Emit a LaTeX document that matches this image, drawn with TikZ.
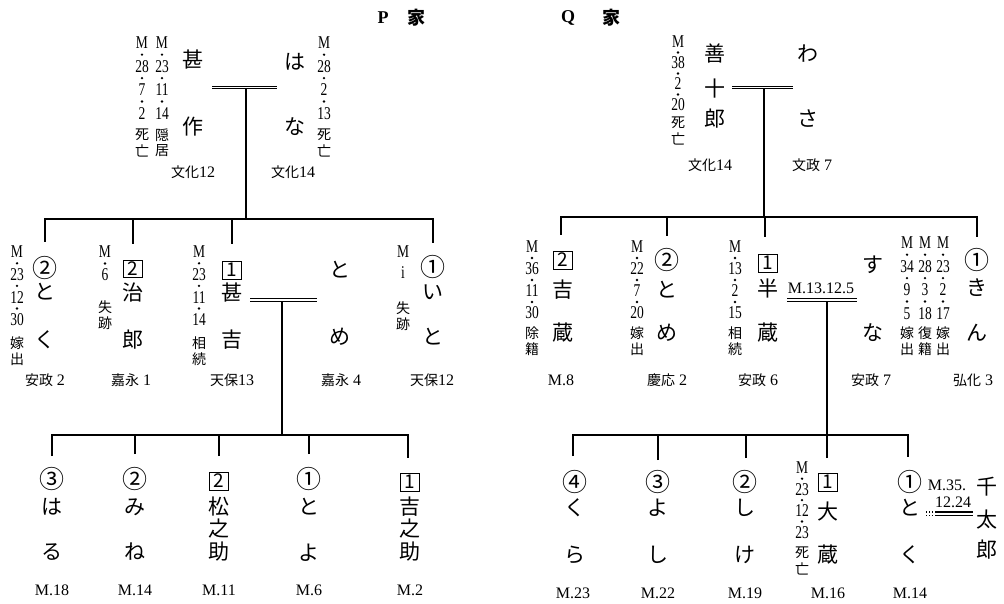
\documentclass[tikz,border=0pt]{standalone}
\usepackage{fontspec}
\setmainfont{Liberation Serif}
\newfontfamily\jp{Noto Sans CJK JP}
\newfontfamily\annf[FakeStretch=0.75]{Liberation Serif}
\newcommand\cnum[1]{{\jp\fontsize{25}{25}\selectfont #1}}
\newcommand\bx[1]{{\setlength\fboxsep{0pt}\setlength\fboxrule{0.7pt}\fbox{\makebox[18pt][c]{\rule[-2pt]{0pt}{17pt}\fontsize{19}{19}\selectfont #1}}}}
\newcommand\dtt[2]{{\jp\fontsize{14}{14}\selectfont #1}#2}
\tikzset{
  ln/.style={line width=1.4pt},
  dbl/.style={double, double distance=1.6pt, line width=1.1pt},
  thinln/.style={line width=1.1pt},
  nm/.style={inner sep=0pt, font=\jp\fontsize{21}{21}\selectfont},
  annum/.style={inner sep=0pt, font=\annf\fontsize{18}{18}\selectfont},
  annk/.style={inner sep=0pt, font=\jp\fontsize{14}{14}\selectfont},
  dt/.style={inner sep=0pt, font=\fontsize{16}{16}\selectfont},
  ml/.style={inner sep=0pt, font=\fontsize{16}{16}\selectfont},
  ttl/.style={inner sep=0pt, font=\bfseries\fontsize{18}{18}\selectfont},
}
\newcommand\vname[3]{\foreach \yy/\tx [count=\ii] in {#3} {\node[nm] (#1\ii) at (#2,\yy) {\tx};}}
\newcommand\ann[8]{%
  \foreach \tx [count=\ii from 0] in {#5} {%
    \node[annum] (#1n\ii) at (#2,{#3+2*\ii*#4}) {\tx};
    \ifnum\ii>0 \fill (#2,{#3+(2*\ii-1)*#4}) circle[radius=1.3pt];\fi}
  \node[annk] (#1k1) at (#2,#6) {#7};
  \node[annk] (#1k2) at (#2,{#6+16}) {#8};
}
\begin{document}
\begin{tikzpicture}[x=1pt,y=-1pt]
\useasboundingbox (0,0) rectangle (1004,604);
% titles
\node[ttl] (Pt) at (383,18) {P};
\node[ttl] (Pie) at (416,18) {\jp 家};
\node[ttl] (Qt) at (568,18) {Q};
\node[ttl] (Qie) at (611,18) {\jp 家};
% ================= P family =================
\vname{jsa}{193}{60/甚,127/作}
\vname{hana}{295}{62/は,127/な}
\ann{jsaA}{142}{43}{11.7}{M,28,7,2}{135}{死}{亡}
\ann{jsaB}{162}{43}{11.7}{M,23,11,14}{135}{隠}{居}
\ann{hanaA}{324}{43}{11.7}{M,28,2,13}{135}{死}{亡}
\node[dt] (jsad) at (193,172) {\dtt{文化}{12}};
\node[dt] (hanad) at (293,172) {\dtt{文化}{14}};
\coordinate (PdL) at (212,87.5);
\coordinate (PdR) at (277,87.5);
\coordinate (Pm) at (246,87.5);
\coordinate (PB) at (246,219);
% P second generation
\vname{tok}{45}{268/\cnum{②},292/と,340/く}
\ann{tokA}{17}{252}{11.3}{M,23,12,30}{343}{嫁}{出}
\node[dt] (tokd) at (45,380) {\dtt{安政}{~2}};
\vname{jiro}{133}{269/\bx{2},293/治,340/郎}
\ann{jiroA}{105}{252}{11.5}{M,6}{307}{失}{跡}
\node[dt] (jirod) at (131,380) {\dtt{嘉永}{~1}};
\vname{jink}{232}{270/\bx{1},293/甚,340/吉}
\ann{jinkA}{199}{252}{11.3}{M,23,11,14}{343}{相}{続}
\node[dt] (jinkd) at (232,380) {\dtt{天保}{13}};
\vname{tome}{340}{270/と,337/め}
\node[dt] (tomed) at (341,380) {\dtt{嘉永}{~4}};
\vname{ito}{433}{267/\cnum{①},292/い,337/と}
\node[annum] (itoAn0) at (403,252) {M};
\node[annum] (itoAn1) at (403,273) {i};
\node[annk] (itoAk1) at (403,308) {失};
\node[annk] (itoAk2) at (403,324) {跡};
\node[dt] (itod) at (432,380) {\dtt{天保}{12}};
\coordinate (tokT) at (45,242);
\coordinate (jiroT) at (133,244);
\coordinate (jinkT) at (232,244);
\coordinate (itoT) at (433,243);
\draw[ln] (Pm) -- (PB);
\draw[ln] (tokT) |- (PB) -| (itoT);
\draw[ln] (jiroT) -- (jiroT |- PB);
\draw[ln] (jinkT) -- (jinkT |- PB);
\draw[dbl] (PdL) -- (PdR);
% marriage jinkichi = tome
\coordinate (PdL2) at (250,300);
\coordinate (PdR2) at (317,300);
\coordinate (Pm2) at (282,300);
\coordinate (PB2) at (282,435);
% P third generation
\vname{haru}{52}{479/\cnum{③},507/は,552/る}
\node[ml] (harud) at (52,590) {M.18};
\vname{mine}{135}{479/\cnum{②},507/み,552/ね}
\node[ml] (mined) at (135,590) {M.14};
\vname{matsu}{219}{481/\bx{2},507/松,529/之,552/助}
\node[ml] (matsud) at (219,590) {M.11};
\vname{toyo}{309}{479/\cnum{①},507/と,553/よ}
\node[ml] (toyod) at (309,590) {M.6};
\vname{kichi}{410}{482/\bx{1},507/吉,529/之,552/助}
\node[ml] (kichid) at (410,590) {M.2};
\coordinate (haruT) at (52,456);
\coordinate (mineT) at (135,454);
\coordinate (matsuT) at (219,456);
\coordinate (toyoT) at (309,454);
\coordinate (kichiT) at (408,458);
\draw[ln] (Pm2) -- (PB2);
\draw[ln] (haruT) |- (PB2) -| (kichiT);
\draw[ln] (mineT) -- (mineT |- PB2);
\draw[ln] (matsuT) -- (matsuT |- PB2);
\draw[ln] (toyoT) -- (toyoT |- PB2);
\draw[dbl] (PdL2) -- (PdR2);
% ================= Q family =================
\vname{zen}{715}{54/善,89/十,119/郎}
\ann{zenA}{678}{42}{10.5}{M,38,2,20}{123}{死}{亡}
\vname{wasa}{808}{54/わ,119/さ}
\node[dt] (zend) at (710,165) {\dtt{文化}{14}};
\node[dt] (wasad) at (812,165) {\dtt{文政}{~7}};
\coordinate (QdL) at (732,87.5);
\coordinate (QdR) at (793,87.5);
\coordinate (Qm) at (764,87.5);
\coordinate (QB) at (764,217);
% Q second generation
\vname{kich}{563}{260/\bx{2},290/吉,333/蔵}
\ann{kichA}{532}{247}{11}{M,36,11,30}{333}{除}{籍}
\node[ml] (kichd) at (561,380) {M.8};
\vname{tomeq}{667}{260/\cnum{②},290/と,333/め}
\ann{tomeqA}{637}{247}{11}{M,22,7,20}{333}{嫁}{出}
\node[dt] (tomeqd) at (667,380) {\dtt{慶応}{~2}};
\vname{han}{768}{263/\bx{1},288/半,333/蔵}
\ann{hanA}{735}{247}{11}{M,13,2,15}{333}{相}{続}
\node[dt] (hand) at (758,380) {\dtt{安政}{~6}};
\vname{suna}{873}{265/す,333/な}
\ann{sunaA}{907}{243}{11.7}{M,34,9,5}{333}{嫁}{出}
\ann{sunaB}{925}{243}{11.7}{M,28,3,18}{333}{復}{籍}
\ann{sunaC}{943}{243}{11.7}{M,23,2,17}{333}{嫁}{出}
\node[dt] (sunad) at (871,380) {\dtt{安政}{~7}};
\vname{kin}{977}{260/\cnum{①},288/き,333/ん}
\node[dt] (kind) at (973,380) {\dtt{弘化}{~3}};
\coordinate (kichT) at (561,235);
\coordinate (tomeqT) at (667,236);
\coordinate (hanT) at (765,237);
\coordinate (kinT) at (977,237);
\draw[ln] (Qm) -- (QB);
\draw[ln] (kichT) |- (QB) -| (kinT);
\draw[ln] (tomeqT) -- (tomeqT |- QB);
\draw[ln] (hanT) -- (hanT |- QB);
\draw[dbl] (QdL) -- (QdR);
% marriage hanzo = suna
\node[ml] (qml) at (821,288) {M.13.12.5};
\coordinate (QdL2) at (787,300);
\coordinate (QdR2) at (857,300);
\coordinate (Qm2) at (827,300);
\coordinate (QB2) at (827,435);
% Q third generation
\vname{kura}{575}{482/\cnum{④},508/く,555/ら}
\node[ml] (kurad) at (573,593) {M.23};
\vname{yosh}{658}{482/\cnum{③},508/よ,555/し}
\node[ml] (yoshd) at (658,593) {M.22};
\vname{shik}{745}{482/\cnum{②},508/し,555/け}
\node[ml] (shikd) at (745,593) {M.19};
\vname{dai}{828}{482/\bx{1},512/大,555/蔵}
\ann{daiA}{802}{468}{10.7}{M,23,12,23}{553}{死}{亡}
\node[ml] (daid) at (828,593) {M.16};
\vname{tokq}{910}{482/\cnum{①},508/と,555/く}
\node[ml] (tokqd) at (910,593) {M.14};
\vname{sen}{987}{487/千,520/太,550/郎}
\node[ml] (sml1) at (947,485) {M.35.};
\node[ml] (sml2) at (953,502) {12.24};
\coordinate (SaL) at (926,512);
\coordinate (SaM) at (936,512);
\coordinate (SaR) at (973,512);
\coordinate (SbL) at (926,515.5);
\coordinate (SbM) at (936,515.5);
\coordinate (SbR) at (973,515.5);
\coordinate (kuraT) at (573,456);
\coordinate (yoshT) at (658,460);
\coordinate (shikT) at (746,458);
\coordinate (daiT) at (827,458);
\coordinate (tokqT) at (908,457);
\draw[ln] (Qm2) -- (QB2);
\draw[ln] (kuraT) |- (QB2) -| (tokqT);
\draw[ln] (yoshT) -- (yoshT |- QB2);
\draw[ln] (shikT) -- (shikT |- QB2);
\draw[ln] (daiT) -- (daiT |- QB2);
\draw[dbl] (QdL2) -- (QdR2);
\draw[thinln] (SaM) -- (SaR);
\draw[thinln] (SbM) -- (SbR);
\draw[thinln, dotted] (SaL) -- (SaM);
\draw[thinln, dotted] (SbL) -- (SbM);
\end{tikzpicture}
\end{document}
